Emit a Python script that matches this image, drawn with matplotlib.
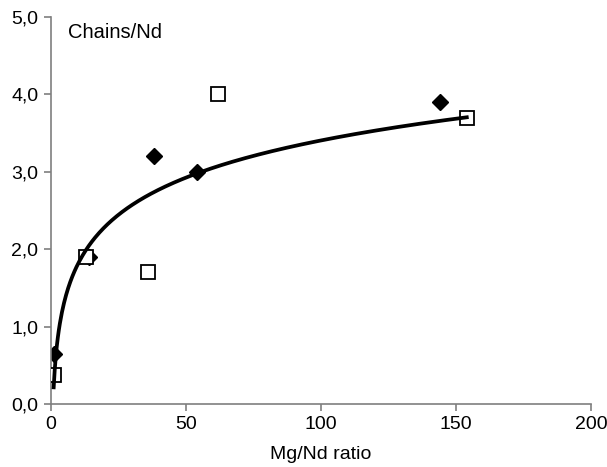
import numpy as np
import matplotlib
matplotlib.use("Agg")
import matplotlib.pyplot as plt
from matplotlib.ticker import FuncFormatter

plt.rcParams['font.family'] = ['Liberation Sans', 'DejaVu Sans']

# filled diamonds
dia_x = [1, 14, 38, 54, 144]
dia_y = [0.65, 1.9, 3.2, 3.0, 3.9]

# open squares
sq_x = [1, 13, 36, 62, 154]
sq_y = [0.38, 1.9, 1.7, 4.0, 3.7]

# logarithmic trendline through the squares
a, b = np.polyfit(np.log(sq_x), sq_y, 1)
fit_x = np.linspace(min(sq_x), max(sq_x), 400)
fit_y = a * np.log(fit_x) + b

fig = plt.figure(figsize=(6.07, 4.67), dpi=100)
ax = fig.add_axes([0.084, 0.135, 0.8896, 0.8287])

grey = '#7f7f7f'

ax.plot(dia_x, dia_y, linestyle='none', marker='D', ms=8,
        color='black', zorder=2)
ax.plot(sq_x, sq_y, linestyle='none', marker='s', ms=9.5,
        mfc='white', mec='black', mew=1.3, zorder=3)
ax.plot(fit_x, fit_y, color='black', lw=2.7, zorder=4)

ax.set_xlim(0, 200)
ax.set_ylim(0, 5)
ax.set_xticks([0, 50, 100, 150, 200])
ax.set_yticks([0, 1, 2, 3, 4, 5])
ax.yaxis.set_major_formatter(FuncFormatter(lambda v, p: f"{v:.1f}".replace('.', ',')))

for s in ['top', 'right']:
    ax.spines[s].set_visible(False)
for s in ['left', 'bottom']:
    ax.spines[s].set_color(grey)
    ax.spines[s].set_linewidth(1.2)

ax.tick_params(direction='out', length=5, width=1.2, color=grey,
               labelsize=14, pad=4)

ax.set_xlabel('Mg/Nd ratio', fontsize=14, labelpad=9)
ax.text(0.032, 0.985, 'Chains/Nd', transform=ax.transAxes,
        fontsize=14.5, va='top', ha='left')

fig.savefig('out.png', dpi=100)
